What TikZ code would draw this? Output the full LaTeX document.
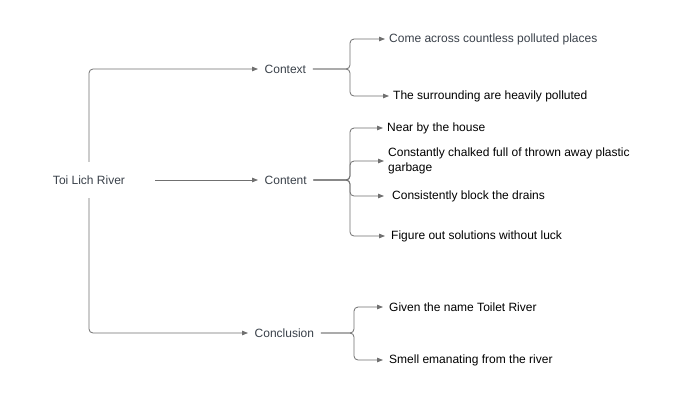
\documentclass[tikz,border=0pt]{standalone}
\usepackage{fontspec}
\setmainfont{Liberation Sans}
\usetikzlibrary{arrows.meta}
\definecolor{linegray}{HTML}{707070}
\definecolor{txtgray}{HTML}{3A414A}
\begin{document}
\begin{tikzpicture}[x=1pt,y=-1pt,
  every node/.style={font=\fontsize{12}{15}\selectfont},
  mid/.style={inner xsep=6.5pt, inner ysep=3pt, anchor=west, text=txtgray},
  leaf/.style={inner xsep=4pt, inner ysep=2pt, anchor=west, text=black, align=left},
  conn/.style={draw=linegray, line width=0.8pt, rounded corners=4pt, -{Triangle[length=6pt,width=4.5pt]}},
  ]
\useasboundingbox[fill=white] (0,0) rectangle (700,416);
% main nodes
\node[minimum width=132pt, minimum height=36pt, inner sep=0pt, text=txtgray] (root) at (89,180) {Toi Lich River};
\node[mid] (ctx) at (258,69) {Context};
\node[mid] (cnt) at (258,180) {Content};
\node[mid] (ccl) at (248,333) {Conclusion};
% leaves
\node[leaf, text=txtgray] (c1) at (385,39) {Come across countless polluted places};
\node[leaf] (c2) at (389,96) {The surrounding are heavily polluted};
\node[leaf] (n1) at (383,128) {Near by the house};
\node[leaf] (n2) at (384,161) {Constantly chalked full of thrown away plastic\\garbage};
\node[leaf, inner xsep=8pt] (n3) at (384,196) {Consistently block the drains};
\node[leaf, inner xsep=6pt] (n4) at (385,236) {Figure out solutions without luck};
\node[leaf, inner xsep=6pt] (g1) at (383,307) {Given the name Toilet River};
\node[leaf, inner xsep=6pt] (g2) at (383,360) {Smell emanating from the river};
% bracket points
\coordinate (bctx) at (350,69);
\coordinate (bcnt) at (350,180);
\coordinate (bccl) at (354,333);
% root connectors
\draw[conn] (root.north) |- (ctx.west);
\draw[conn] (root.east) -- (cnt.west);
\draw[conn] (root.south) |- (ccl.west);
% context
\draw[conn] (ctx.east) -- (bctx) |- (c1.west);
\draw[conn] (ctx.east) -- (bctx) |- (c2.west);
% content
\draw[conn] (cnt.east) -- (bcnt) |- (n1.west);
\draw[conn] (cnt.east) -- (bcnt) |- (n2.west);
\draw[conn] (cnt.east) -- (bcnt) |- (n3.west);
\draw[conn] (cnt.east) -- (bcnt) |- (n4.west);
% conclusion
\draw[conn] (ccl.east) -- (bccl) |- (g1.west);
\draw[conn] (ccl.east) -- (bccl) |- (g2.west);
\end{tikzpicture}
\end{document}
